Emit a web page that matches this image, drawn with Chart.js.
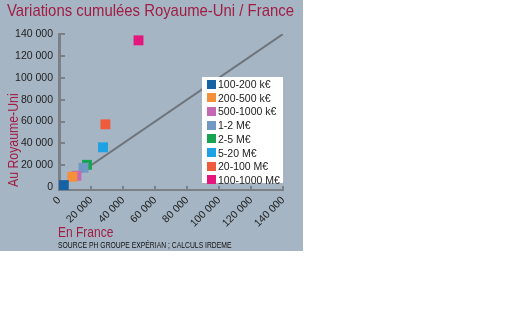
<!DOCTYPE html>
<html>
<head>
<meta charset="utf-8">
<script src="https://cdn.jsdelivr.net/npm/chart.js@4.4.1/dist/chart.umd.min.js"></script>
<style>
  html, body { margin: 0; padding: 0; background: #ffffff; }
  #panel { position: absolute; left: 0; top: 0; width: 303px; height: 251px; background: #a5b5c4; overflow: hidden; }
  #plot { position: absolute; left: 0; top: 0; }
  .narrow { font-family: "Liberation Sans", Arial, sans-serif; white-space: nowrap; line-height: 1; transform-origin: 0 0; }
  #title { position: absolute; left: 7px; top: 2px; font-size: 17px; color: #a11d44; transform: scaleX(0.876); }
  #ytitle { position: absolute; left: 5px; top: 187px; font-size: 15px; color: #a11d44; transform: rotate(-90deg) scaleX(0.82); }
  #xtitle { position: absolute; left: 58px; top: 224px; font-size: 15px; color: #a11d44; transform: scaleX(0.8); }
  #source { position: absolute; left: 58px; top: 241px; font-size: 8.3px; color: #111111; transform: scaleX(0.82); }
  #legend { position: absolute; left: 202px; top: 77px; width: 81px; height: 106px; background: #ffffff;
            font-family: "Liberation Sans", Arial, sans-serif; font-size: 10.5px; color: #222222; }
  #legend .row { position: absolute; left: 0; height: 14px; display: flex; align-items: center; white-space: nowrap; }
  #legend .sw { width: 9px; height: 9px; margin-left: 5px; margin-right: 2px; flex: none; }
</style>
</head>
<body>
<div id="panel">
  <canvas id="plot" width="303" height="251"></canvas>
  <div id="title" class="narrow">Variations cumulées Royaume-Uni / France</div>
  <div id="ytitle" class="narrow">Au Royaume-Uni</div>
  <div id="xtitle" class="narrow">En France</div>
  <div id="source" class="narrow">SOURCE PH GROUPE EXPÉRIAN ; CALCULS IRDEME</div>
  <div id="legend"></div>
</div>
<script>
// Company size classes (turnover bands)
const sizeClasses = ['100-200 k€', '200-500 k€', '500-1000 k€', '1-2 M€', '2-5 M€', '5-20 M€', '20-100 M€', '100-1000 M€'];
// Cumulative variation in France (x) and in the United Kingdom (y)
const franceVariation = [3000, 8400, 10900, 15300, 17500, 27500, 29000, 49700];
const ukVariation     = [2000, 9600, 10500, 17800, 20500, 36500, 57500, 134200];
// Axis tick values, shared by both axes
const axisTicks = [0, 20000, 40000, 60000, 80000, 100000, 120000, 140000];
// Reference diagonal (equal variation in both countries)
const parityLine = [0, 140000];

const palette = ['#1762a3', '#f68f3a', '#c468b4', '#7199c4', '#17a452', '#1ea2e4', '#ef5b3d', '#e5177c'];
const axisGrey = '#7b8087';

const fmt = v => String(v).replace(/\B(?=(\d{3})+(?!\d))/g, ' ');

const datasets = sizeClasses.map((label, i) => ({
  label,
  data: [{ x: franceVariation[i], y: ukVariation[i] }],
  backgroundColor: palette[i],
  borderWidth: 0,
  pointStyle: 'rect',
  pointRadius: 7,
  order: 0
}));
datasets.push({
  label: 'parity',
  data: parityLine.map(v => ({ x: v, y: v })),
  showLine: true,
  borderColor: '#6f757c',
  borderWidth: 2,
  pointRadius: 0,
  order: 1
});

// Short tick marks drawn on the inner side of both axes
const innerTicks = {
  id: 'innerTicks',
  beforeDatasetsDraw(chart) {
    const { ctx, chartArea, scales } = chart;
    ctx.save();
    ctx.strokeStyle = axisGrey;
    ctx.lineWidth = 2;
    ctx.beginPath();
    scales.y.ticks.forEach(t => {
      if (t.value === 0) return;
      const py = Math.round(scales.y.getPixelForValue(t.value));
      ctx.moveTo(chartArea.left + 1, py);
      ctx.lineTo(chartArea.left + 6, py);
    });
    scales.x.ticks.forEach(t => {
      if (t.value === 0) return;
      const px = Math.round(scales.x.getPixelForValue(t.value));
      ctx.moveTo(px, chartArea.bottom);
      ctx.lineTo(px, chartArea.bottom - 4);
    });
    ctx.stroke();
    ctx.restore();
  }
};

const tickFont = { family: '"Liberation Sans", Arial, sans-serif', size: 10.5 };

const chart = new Chart(document.getElementById('plot'), {
  type: 'scatter',
  data: { datasets },
  options: {
    responsive: false,
    animation: false,
    devicePixelRatio: 1,
    events: [],
    layout: { padding: { top: 34, right: 20, left: 0, bottom: 0 } },
    plugins: { legend: { display: false }, tooltip: { enabled: false }, title: { display: false } },
    scales: {
      x: {
        type: 'linear', min: 0, max: 140000,
        afterBuildTicks: s => { s.ticks = axisTicks.map(v => ({ value: v })); },
        afterFit: s => { s.height = 61; },
        grid: { display: false, drawTicks: false },
        border: { display: true, color: axisGrey, width: 2 },
        ticks: { minRotation: 45, maxRotation: 45, padding: 4, color: '#222222', font: tickFont, callback: v => fmt(v) }
      },
      y: {
        type: 'linear', min: -2500, max: 140000,
        afterBuildTicks: s => { s.ticks = axisTicks.map(v => ({ value: v })); },
        afterFit: s => { s.width = 59; },
        grid: { display: false, drawTicks: false },
        border: { display: true, color: axisGrey, width: 3 },
        ticks: { padding: 6, color: '#222222', font: tickFont, callback: v => fmt(v) }
      }
    }
  },
  plugins: [innerTicks]
});

// HTML legend built from the chart's own datasets
const legend = document.getElementById('legend');
chart.data.datasets.slice(0, sizeClasses.length).forEach((ds, i) => {
  const row = document.createElement('div');
  row.className = 'row';
  row.style.top = (0 + i * 13.7) + 'px';
  const sw = document.createElement('span');
  sw.className = 'sw';
  sw.style.background = ds.backgroundColor;
  const tx = document.createElement('span');
  tx.textContent = ds.label;
  row.appendChild(sw);
  row.appendChild(tx);
  legend.appendChild(row);
});
</script>
</body>
</html>
